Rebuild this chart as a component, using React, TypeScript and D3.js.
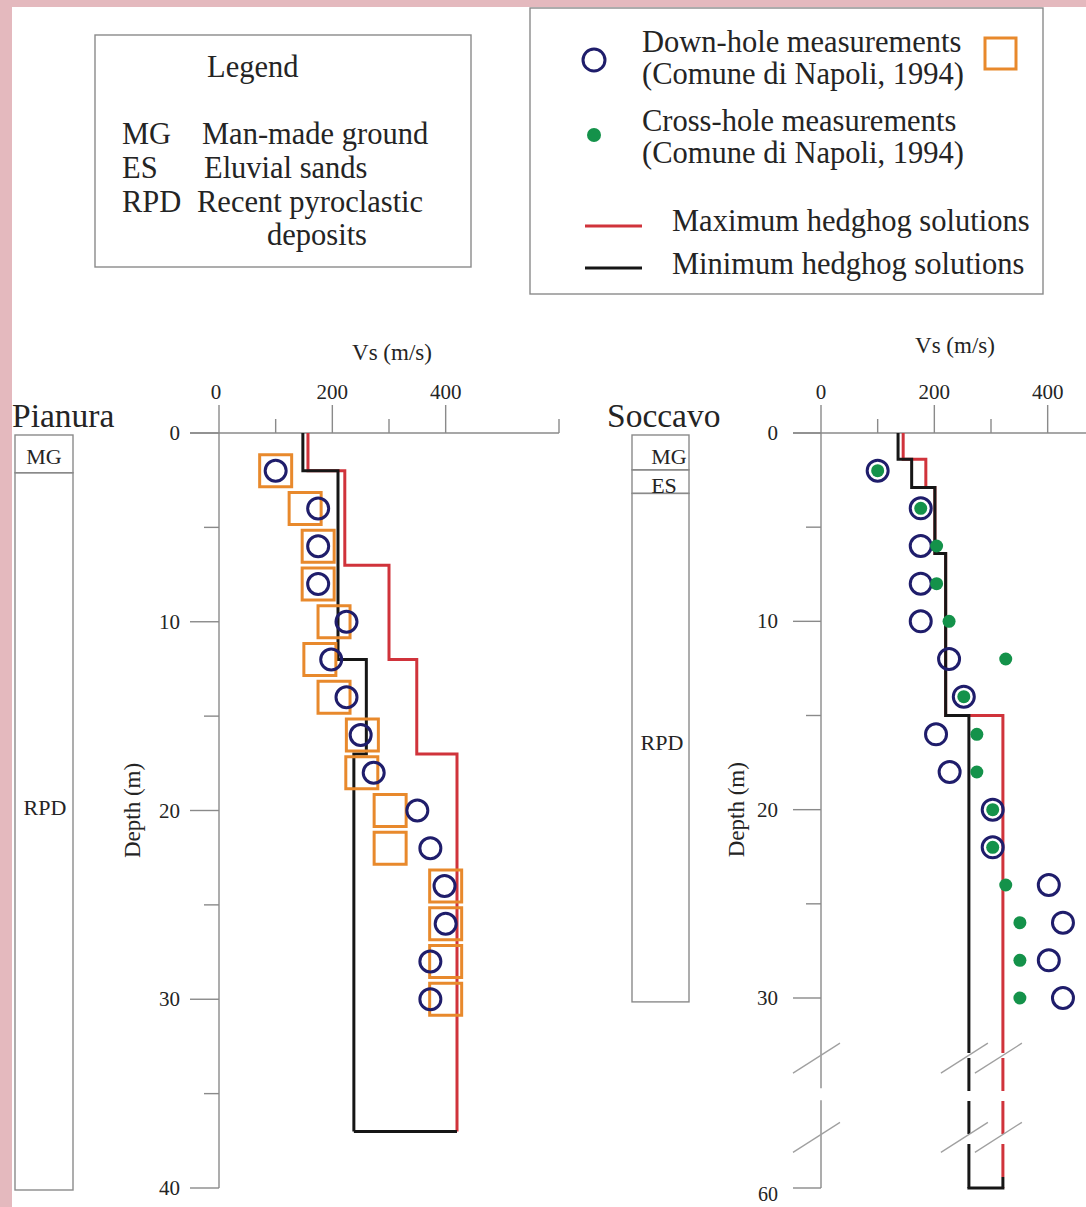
import React from 'react';
import * as d3 from 'd3';

const W = 1086;
const H = 1207;
const FONT = "'Liberation Serif', 'Times New Roman', serif";
const TXT = '#242424';
const GREY = '#8a8a8a';
const NAVY = '#1f1d6b';
const ORANGE = '#e8892c';
const GREEN = '#14924a';
const RED = '#d0333b';
const BLACK = '#161616';
const LEG = 30.5;

// ---- Pianura ----
const pianuraDepths = [2, 4, 6, 8, 10, 12, 14, 16, 18, 20, 22, 24, 26, 28, 30];
const pianuraDownHole = [100, 175, 175, 175, 225, 198, 225, 250, 273, 350, 373, 398, 400, 373, 373];
const pianuraSquares = [100, 152, 175, 175, 203, 178, 203, 253, 252, 302, 302, 400, 400, 400, 400];
const pianuraMaxTops = [0, 2, 7, 12, 17];
const pianuraMaxVs = [157, 222, 300, 349, 420];
const pianuraMinTops = [0, 2, 12, 17];
const pianuraMinVs = [148, 210, 260, 238];
const pianuraBottom = 37;
const pianuraLayers = [
  { name: 'MG', top: 0, bottom: 2 },
  { name: 'RPD', top: 2, bottom: 40 },
];

// ---- Soccavo ----
const soccavoDepths = [2, 4, 6, 8, 10, 12, 14, 16, 18, 20, 22, 24, 26, 28, 30];
const soccavoDownHole = [100, 176, 176, 176, 176, 226, 252, 203, 227, 303, 303, 402, 427, 402, 427];
const soccavoCrossHole = [100, 176, 204, 204, 226, 326, 252, 275, 275, 303, 303, 326, 351, 351, 351];
const soccavoMaxTops = [0, 1.4, 2.9, 6.4, 15];
const soccavoMaxVs = [145, 185, 201, 220, 321];
const soccavoMinTops = [0, 1.4, 2.9, 6.4, 15];
const soccavoMinVs = [136, 160, 201, 220, 261];
const soccavoBottom = 60;
const soccavoDashFrom = 38.7;
const soccavoBreaks = [39.5, 52];
const soccavoLayers = [
  { name: 'MG', top: 0, bottom: 1.85 },
  { name: 'ES', top: 1.85, bottom: 3.1 },
  { name: 'RPD', top: 3.1, bottom: 30.3 },
];

const vsLabels = [0, 200, 400];
const vsMajor = [0, 200, 400];
const pianuraVsMinor = [100, 300, 600];
const soccavoVsMinor = [100, 300, 500];
const pianuraDepthMajor = [0, 10, 20, 30, 40];
const pianuraDepthMinor = [5, 15, 25, 35];
const soccavoDepthMajor = [0, 10, 20, 30, 60];
const soccavoDepthMinor = [5, 15, 25];

// scales
const xP = d3.scaleLinear().domain([0, 600]).range([219, 559]);
const yP = d3.scaleLinear().domain([0, 40]).range([433, 1188]);
const xS = d3.scaleLinear().domain([0, 600]).range([821, 1161]);
const yS = d3.scaleLinear().domain([0, 30, 60]).range([433, 998, 1188]);

function stepPath(tops: number[], vs: number[], bottom: number, x: any, y: any) {
  const pts: [number, number][] = tops.map((t, i) => [vs[i], t]);
  pts.push([vs[vs.length - 1], bottom]);
  return d3
    .line<[number, number]>()
    .x((d) => x(d[0]))
    .y((d) => y(d[1]))
    .curve(d3.curveStepBefore)(pts) as string;
}

const T = (props: any) => (
  <text fontFamily={FONT} fill={TXT} {...props} />
);

function TopAxis({ x, y0, left, right, minor }: any) {
  return (
    <g stroke={GREY} strokeWidth={1.4}>
      <line x1={left} x2={right} y1={y0} y2={y0} />
      {vsMajor.map((v) => (
        <line key={'M' + v} x1={x(v)} x2={x(v)} y1={y0 - 28} y2={y0} />
      ))}
      {minor.map((v: number) => (
        <line key={'m' + v} x1={x(v)} x2={x(v)} y1={y0 - 14} y2={y0} />
      ))}
    </g>
  );
}

function Column({ layers, y, left, right }: any) {
  return (
    <g>
      {layers.map((l: any) => (
        <rect key={l.name} x={left} y={y(l.top) + 2} width={right - left}
          height={y(l.bottom) - y(l.top)} fill="none" stroke={GREY} strokeWidth={1.4} />
      ))}
    </g>
  );
}

export default function App() {
  const pianuraMax = stepPath(pianuraMaxTops, pianuraMaxVs, pianuraBottom, xP, yP);
  const pianuraMin = stepPath(pianuraMinTops, pianuraMinVs, pianuraBottom, xP, yP);
  const soccavoMax = stepPath(soccavoMaxTops, soccavoMaxVs, soccavoDashFrom, xS, yS);
  const soccavoMin = stepPath(soccavoMinTops, soccavoMinVs, soccavoDashFrom, xS, yS);
  const sMaxX = xS(soccavoMaxVs[soccavoMaxVs.length - 1]);
  const sMinX = xS(soccavoMinVs[soccavoMinVs.length - 1]);
  const pMaxX = xP(pianuraMaxVs[pianuraMaxVs.length - 1]);
  const pMinX = xP(pianuraMinVs[pianuraMinVs.length - 1]);
  const ax = xS(0);

  return (
    <svg width={W} height={H} style={{ position: 'absolute', left: 0, top: 0, display: 'block' }}>
      <rect x={0} y={0} width={W} height={H} fill="#e4b9be" />
      <rect x={12} y={7} width={W - 12} height={H - 7} fill="#ffffff" />

      {/* left legend */}
      <rect x={95} y={35} width={376} height={232} fill="none" stroke={GREY} strokeWidth={1.4} />
      <T x={207} y={77} fontSize={LEG}>Legend</T>
      <T x={122} y={144} fontSize={LEG}>MG</T>
      <T x={202} y={144} fontSize={LEG}>Man-made ground</T>
      <T x={122} y={178} fontSize={LEG}>ES</T>
      <T x={204} y={178} fontSize={LEG}>Eluvial sands</T>
      <T x={122} y={212} fontSize={LEG}>RPD</T>
      <T x={197} y={212} fontSize={LEG}>Recent pyroclastic</T>
      <T x={267} y={245} fontSize={LEG}>deposits</T>

      {/* right legend */}
      <rect x={530} y={8} width={513} height={286} fill="none" stroke={GREY} strokeWidth={1.4} />
      <circle cx={594} cy={60} r={11} fill="none" stroke={NAVY} strokeWidth={3} />
      <rect x={985} y={38} width={31} height={31} fill="none" stroke={ORANGE} strokeWidth={3} />
      <circle cx={594} cy={135} r={7} fill={GREEN} />
      <line x1={585} x2={642} y1={226} y2={226} stroke={RED} strokeWidth={3} />
      <line x1={585} x2={642} y1={268} y2={268} stroke={BLACK} strokeWidth={3} />
      <T x={642} y={52} fontSize={LEG}>Down-hole measurements</T>
      <T x={642} y={84} fontSize={LEG}>(Comune di Napoli, 1994)</T>
      <T x={642} y={131} fontSize={LEG}>Cross-hole measurements</T>
      <T x={642} y={163} fontSize={LEG}>(Comune di Napoli, 1994)</T>
      <T x={672} y={231} fontSize={LEG}>Maximum hedghog solutions</T>
      <T x={672} y={274} fontSize={LEG}>Minimum hedghog solutions</T>

      {/* ---------- Pianura ---------- */}
      <T x={12} y={427} fontSize={33.5}>Pianura</T>
      <Column layers={pianuraLayers} y={yP} left={15} right={73} />
      <T x={44} y={464} fontSize={22} textAnchor="middle">MG</T>
      <T x={45} y={815} fontSize={22} textAnchor="middle">RPD</T>

      <T x={392} y={360} fontSize={23} textAnchor="middle">Vs (m/s)</T>
      {vsLabels.map((v) => (
        <T key={v} x={xP(v) - (v === 0 ? 3 : 0)} y={399} fontSize={21} textAnchor="middle">{v}</T>
      ))}
      <TopAxis x={xP} y0={yP(0)} left={190} right={xP(600)} minor={pianuraVsMinor} />
      <g stroke={GREY} strokeWidth={1.4}>
        <line x1={xP(0)} x2={xP(0)} y1={yP(0)} y2={yP(40)} />
        {pianuraDepthMajor.map((d) => (
          <line key={d} x1={190} x2={xP(0)} y1={yP(d)} y2={yP(d)} />
        ))}
        {pianuraDepthMinor.map((d) => (
          <line key={d} x1={204} x2={xP(0)} y1={yP(d)} y2={yP(d)} />
        ))}
      </g>
      {pianuraDepthMajor.map((d) => (
        <T key={d} x={180} y={yP(d) + 7} fontSize={21} textAnchor="end">{d}</T>
      ))}
      <T transform={`translate(140,${yP(20)}) rotate(-90)`} fontSize={23} textAnchor="middle">Depth (m)</T>

      <path d={pianuraMax} fill="none" stroke={RED} strokeWidth={3} />
      <line x1={pMinX} x2={pMaxX} y1={yP(pianuraBottom)} y2={yP(pianuraBottom)} stroke={BLACK} strokeWidth={3} />
      <path d={pianuraMin} fill="none" stroke={BLACK} strokeWidth={3} />
      {pianuraDepths.map((d, i) => (
        <rect key={'s' + d} x={xP(pianuraSquares[i]) - 16} y={yP(d) - 16} width={32} height={32}
          fill="none" stroke={ORANGE} strokeWidth={3} />
      ))}
      {pianuraDepths.map((d, i) => (
        <circle key={'c' + d} cx={xP(pianuraDownHole[i])} cy={yP(d)} r={10.5}
          fill="none" stroke={NAVY} strokeWidth={3} />
      ))}

      {/* ---------- Soccavo ---------- */}
      <T x={607} y={427} fontSize={33.5}>Soccavo</T>
      <Column layers={soccavoLayers} y={yS} left={632} right={689} />
      <T x={669} y={464} fontSize={22} textAnchor="middle">MG</T>
      <T x={664} y={493} fontSize={22} textAnchor="middle">ES</T>
      <T x={662} y={750} fontSize={22} textAnchor="middle">RPD</T>

      <T x={955} y={353} fontSize={23} textAnchor="middle">Vs (m/s)</T>
      {vsLabels.map((v) => (
        <T key={v} x={xS(v)} y={399} fontSize={21} textAnchor="middle">{v}</T>
      ))}
      <TopAxis x={xS} y0={yS(0)} left={793} right={xS(600)} minor={soccavoVsMinor} />
      <g stroke={GREY} strokeWidth={1.4}>
        <line x1={ax} x2={ax} y1={yS(0)} y2={yS(soccavoBreaks[0]) + 30} />
        <line x1={ax} x2={ax} y1={yS(soccavoBreaks[0]) + 42} y2={yS(60)} />
        {soccavoDepthMajor.map((d) => (
          <line key={d} x1={793} x2={ax} y1={yS(d)} y2={yS(d)} />
        ))}
        {soccavoDepthMinor.map((d) => (
          <line key={d} x1={806} x2={ax} y1={yS(d)} y2={yS(d)} />
        ))}
      </g>
      {soccavoDepthMajor.map((d) => (
        <T key={d} x={778} y={d === 60 ? yS(d) + 13 : yS(d) + 7} fontSize={d === 60 ? 20 : 21} textAnchor="end">{d}</T>
      ))}
      <T transform={`translate(744,${yS(20)}) rotate(-90)`} fontSize={23} textAnchor="middle">Depth (m)</T>

      <path d={soccavoMax} fill="none" stroke={RED} strokeWidth={3} />
      <path d={soccavoMin} fill="none" stroke={BLACK} strokeWidth={3} />
      <line x1={sMaxX} x2={sMaxX} y1={yS(soccavoDashFrom)} y2={yS(soccavoBottom)}
        stroke={RED} strokeWidth={3} strokeDasharray="33 10" strokeDashoffset={-5} />
      <line x1={sMinX} x2={sMinX} y1={yS(soccavoDashFrom)} y2={yS(soccavoBottom)}
        stroke={BLACK} strokeWidth={3} strokeDasharray="33 10" strokeDashoffset={-5} />
      <path d={`M${sMinX},${yS(soccavoBottom) - 11}V${yS(soccavoBottom)}H${sMaxX}V${yS(soccavoBottom) - 11}`}
        fill="none" stroke={BLACK} strokeWidth={3} />

      {/* axis breaks */}
      <g stroke="#a0a0a0" strokeWidth={1.3}>
        {soccavoBreaks.map((b) =>
          [ax, sMinX, sMaxX].map((cx) => (
            <line key={b + '-' + cx} x1={cx - 28} y1={yS(b) + 15} x2={cx + 19} y2={yS(b) - 15} />
          ))
        )}
      </g>

      {soccavoDepths.map((d, i) => (
        <circle key={'c' + d} cx={xS(soccavoDownHole[i])} cy={yS(d)} r={10.5}
          fill="none" stroke={NAVY} strokeWidth={3} />
      ))}
      {soccavoDepths.map((d, i) => (
        <circle key={'g' + d} cx={xS(soccavoCrossHole[i])} cy={yS(d)} r={6.5} fill={GREEN} />
      ))}
    </svg>
  );
}
